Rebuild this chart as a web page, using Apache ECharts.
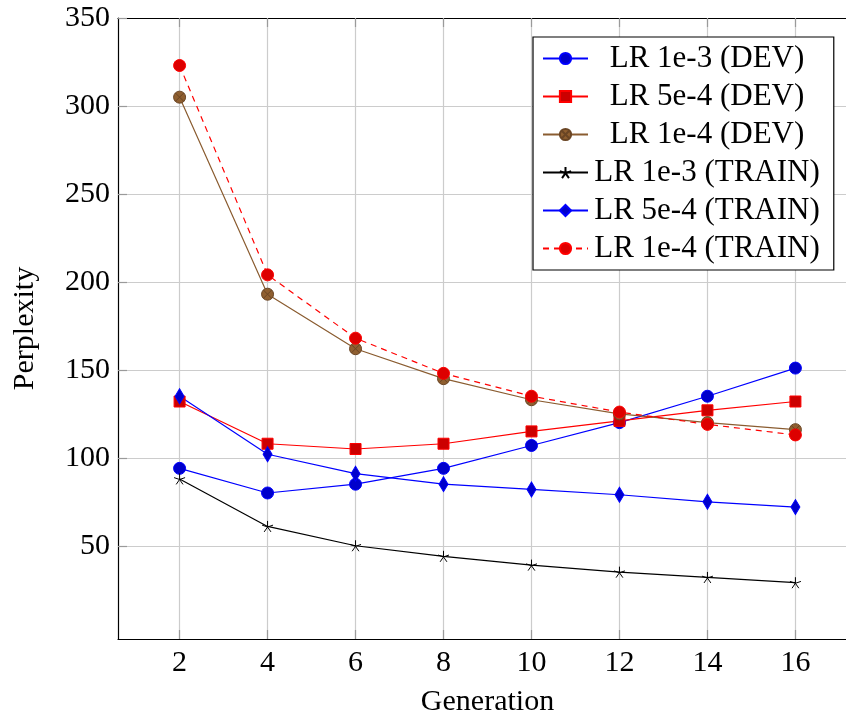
<!DOCTYPE html>
<html>
<head>
<meta charset="utf-8">
<script src="https://cdn.jsdelivr.net/npm/echarts@6/dist/echarts.min.js"></script>
<style>
  html, body { margin: 0; padding: 0; background: #ffffff; }
  #chart { width: 846px; height: 715px; }
</style>
</head>
<body>
<div id="chart"></div>
<script>
// Generations evaluated
const generations = [2, 4, 6, 8, 10, 12, 14, 16];

// Perplexity per generation
const lr1e3Dev   = [94, 80, 85, 94, 107, 120, 135, 151];
const lr5e4Dev   = [132, 108, 105, 108, 115, 121, 127, 132];
const lr1e4Dev   = [305, 193, 162, 145, 133, 125, 120, 116];
const lr1e3Train = [88, 61, 50, 44, 39, 35, 32, 29];
const lr5e4Train = [135, 102, 91, 85, 82, 79, 75, 72];
const lr1e4Train = [323, 204, 168, 148, 135, 126, 119, 113];

// Tick labels
const xTicks = [2, 4, 6, 8, 10, 12, 14, 16];
const yTicks = [50, 100, 150, 200, 250, 300, 350];

const FONT = '"Liberation Serif", "DejaVu Serif", serif';
const STAR = 'path://M0 0L0 -1M0 0L0.951 -0.309M0 0L0.588 0.809M0 0L-0.588 0.809M0 0L-0.951 -0.309';
const OTIMES = 'path://M-1 0A1 1 0 1 1 1 0A1 1 0 1 1 -1 0ZM-0.707 -0.707L0.707 0.707M-0.707 0.707L0.707 -0.707';

function pairs(values) {
  return generations.map((g, i) => [g, values[i]]);
}

function lineSeries(name, values, opts) {
  return {
    name: name,
    type: 'line',
    data: pairs(values),
    symbol: opts.symbol,
    symbolSize: opts.size,
    showSymbol: true,
    lineStyle: { color: opts.line, width: 1.2, type: opts.dash || 'solid' },
    itemStyle: { color: opts.fill, borderColor: opts.stroke, borderWidth: opts.bw == null ? 1 : opts.bw },
    emphasis: { disabled: true },
    z: 2
  };
}

const chart = echarts.init(document.getElementById('chart'), null, { renderer: 'canvas' });

const option = {
  animation: false,
  backgroundColor: '#ffffff',
  textStyle: { fontFamily: FONT },
  // the plot frame continues past the right edge of the page
  grid: { left: 118, top: 18, width: 739, bottom: 76, containLabel: false, outerBoundsMode: 'none' },
  legend: {
    orient: 'vertical',
    left: 533,
    top: 37,
    padding: [6, 14, 6, 9],
    itemGap: 7,
    itemWidth: 45,
    itemHeight: 14,
    backgroundColor: '#ffffff',
    borderColor: '#000000',
    borderWidth: 1.2,
    borderRadius: 0,
    selectedMode: false,
    formatter: name => '{c|' + name + '}',
    textStyle: {
      fontFamily: FONT,
      fontSize: 31,
      color: '#000000',
      rich: {
        c: { width: 228, align: 'center', fontSize: 31, fontFamily: FONT, color: '#000000' }
      }
    }
  },
  xAxis: [
    {
      type: 'value',
      min: 0.6,
      max: 17.4,
      name: 'Generation',
      nameLocation: 'middle',
      nameGap: 48,
      nameTextStyle: { fontFamily: FONT, fontSize: 30, color: '#000000' },
      axisLine: { show: true, onZero: false, lineStyle: { color: '#000000', width: 1.2 } },
      axisTick: { show: true, inside: true, length: 9, customValues: xTicks, lineStyle: { color: '#9a9a9a', width: 1.2 } },
      axisLabel: { customValues: xTicks, margin: 9, fontFamily: FONT, fontSize: 30, color: '#000000' },
      splitLine: { show: true, lineStyle: { color: '#cccccc', width: 1.2 } }
    },
    {
      type: 'value',
      position: 'top',
      min: 0.6,
      max: 17.4,
      axisLine: { show: true, onZero: false, lineStyle: { color: '#000000', width: 1.2 } },
      axisTick: { show: true, inside: true, length: 9, customValues: xTicks, lineStyle: { color: '#9a9a9a', width: 1.2 } },
      axisLabel: { show: false },
      splitLine: { show: false }
    }
  ],
  yAxis: {
    type: 'value',
    min: -3,
    max: 350,
    name: 'Perplexity',
    nameLocation: 'middle',
    nameGap: 78,
    nameRotate: 90,
    nameTextStyle: { fontFamily: FONT, fontSize: 30, color: '#000000' },
    axisLine: { show: true, onZero: false, lineStyle: { color: '#000000', width: 1.2 } },
    axisTick: { show: true, inside: true, length: 9, customValues: yTicks, lineStyle: { color: '#9a9a9a', width: 1.2 } },
    axisLabel: { customValues: yTicks, margin: 8, fontFamily: FONT, fontSize: 30, color: '#000000' },
    splitLine: { show: true, lineStyle: { color: '#cccccc', width: 1.2 } }
  },
  series: [
    lineSeries('LR 1e-3 (DEV)', lr1e3Dev, { symbol: 'circle', size: 12, line: '#0000ff', fill: '#0000cc', stroke: '#0000ff' }),
    lineSeries('LR 5e-4 (DEV)', lr5e4Dev, { symbol: 'rect', size: 11, line: '#ff0000', fill: '#cc0000', stroke: '#ff0000' }),
    lineSeries('LR 1e-4 (DEV)', lr1e4Dev, { symbol: OTIMES, size: 12, line: '#8a5c30', fill: '#8f5f30', stroke: '#6a4524' }),
    lineSeries('LR 1e-3 (TRAIN)', lr1e3Train, { symbol: STAR, size: 11, line: '#000000', fill: '#000000', stroke: '#000000' }),
    lineSeries('LR 5e-4 (TRAIN)', lr5e4Train, { symbol: 'diamond', size: [9, 15], line: '#0000ff', fill: '#0000cc', stroke: '#0000ff' }),
    lineSeries('LR 1e-4 (TRAIN)', lr1e4Train, { symbol: 'circle', size: 12, line: '#ff0000', fill: '#dd0000', stroke: '#ff0000', dash: [6, 5] })
  ]
};

chart.setOption(option);
</script>
</body>
</html>
